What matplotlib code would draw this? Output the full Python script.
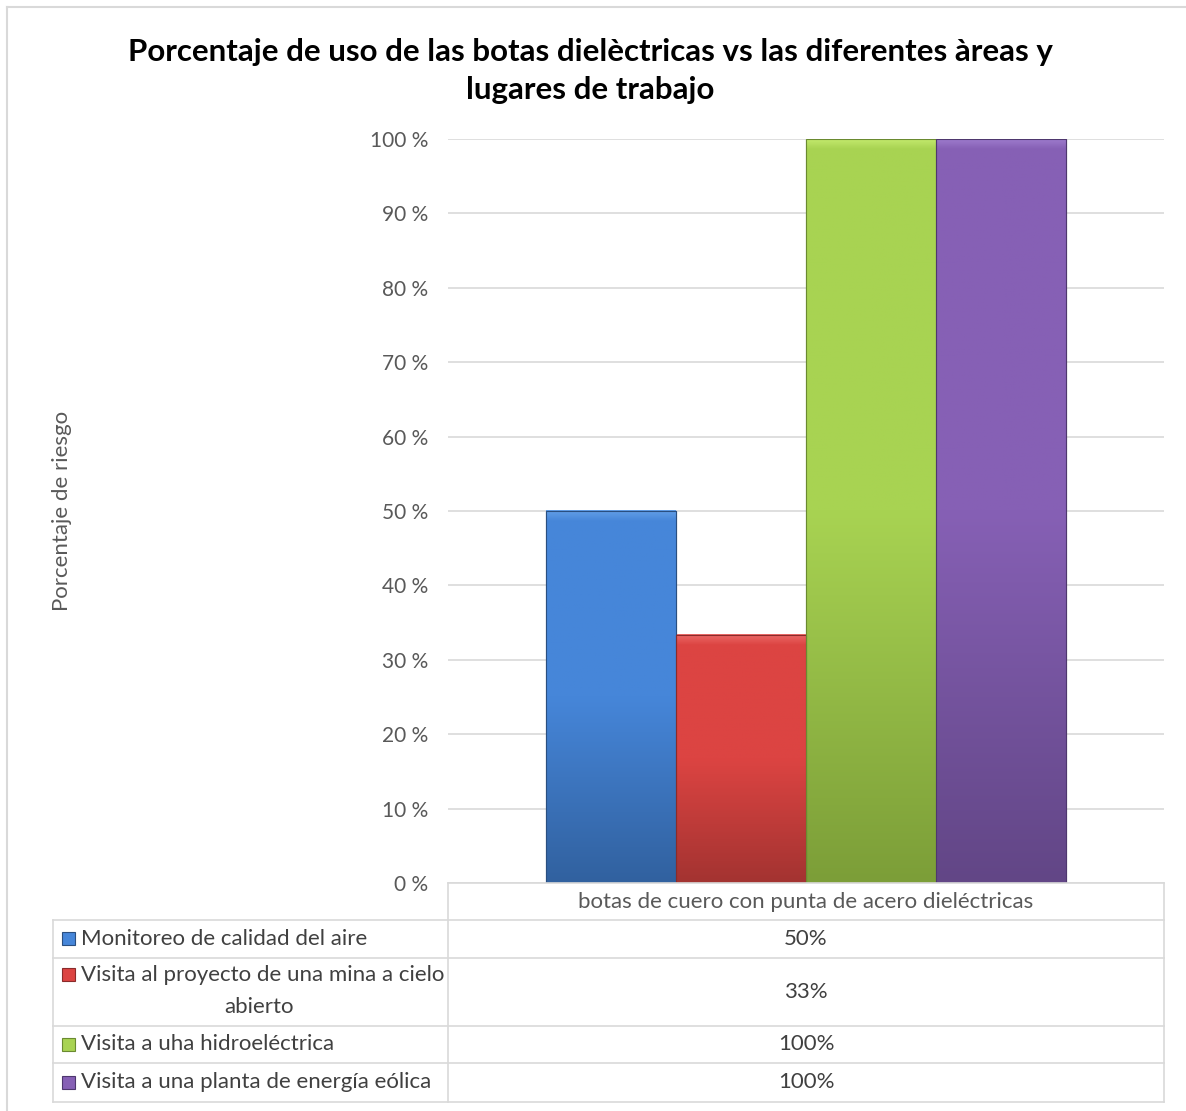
import numpy as np
import matplotlib
matplotlib.use('Agg')
import matplotlib.pyplot as plt
from matplotlib.colors import LinearSegmentedColormap
from matplotlib.lines import Line2D
from matplotlib.patches import Rectangle

plt.rcParams['font.family'] = ['Lato', 'DejaVu Sans']

title = 'Porcentaje de uso de las botas dielèctricas vs las diferentes àreas y\nlugares de trabajo'
category = 'botas de cuero con punta de acero dieléctricas'
series = ['Monitoreo de calidad del aire',
          'Visita al proyecto de una mina a cielo\nabierto',
          'Visita a uha hidroeléctrica',
          'Visita a una planta de energía eólica']
values = [50, 33.33, 100, 100]
top_colors = ['#4686D9', '#DC4442', '#A8D352', '#8660B5']
bottom_colors = ['#31619F', '#A33331', '#7C9E38', '#624686']
light_colors = ['#64A0E8', '#EC6B69', '#C6EC70', '#A07ECF']
edge_colors = ['#2A4F80', '#8A2B2A', '#6A8A30', '#4E376E']
yticks = [0, 10, 20, 30, 40, 50, 60, 70, 80, 90, 100]

W, H = 1186, 1111
fig = plt.figure(figsize=(W / 100, H / 100), dpi=100)

# outer frame (only left and top edges fall inside the picture)
fig.add_artist(Line2D([7 / W, 7 / W], [0, 1 - 7 / H], color='#D9D9D9', lw=1.5))
fig.add_artist(Line2D([7 / W, 1], [1 - 7 / H, 1 - 7 / H], color='#D9D9D9', lw=1.5))

ax_l, ax_r, ax_t, ax_b = 448, 1164, 139, 883
ax = fig.add_axes([ax_l / W, 1 - ax_b / H, (ax_r - ax_l) / W, (ax_b - ax_t) / H])
for s in ax.spines.values():
    s.set_visible(False)
ax.set_yticks(yticks)
ax.set_yticklabels(['%d %%' % t for t in yticks], fontsize=15, color='#595959')
ax.tick_params(axis='y', length=0, pad=14)
ax.set_xticks([])
ax.yaxis.grid(True, color='#D9D9D9', lw=1.2)
ax.set_axisbelow(True)

bw = 0.1815
n = len(values)
for i, v in enumerate(values):
    x0 = (i - (n - 1) / 2) * bw
    bar = ax.bar(x0, v, width=bw, color=top_colors[i], edgecolor=edge_colors[i], lw=0.8, zorder=2)[0]
    cmap = LinearSegmentedColormap.from_list('g%d' % i, [bottom_colors[i], top_colors[i], top_colors[i]])
    grad = np.linspace(0, 1, 256).reshape(-1, 1)
    im = ax.imshow(grad, cmap=cmap, origin='lower', aspect='auto', zorder=2.5,
                   extent=[x0 - bw / 2, x0 + bw / 2, 0, v])
    im.set_clip_path(bar)
    # soft bevel on top
    hl = LinearSegmentedColormap.from_list('h%d' % i, [top_colors[i], light_colors[i]])
    ax.imshow(grad, cmap=hl, origin='lower', aspect='auto', zorder=2.7,
              extent=[x0 - bw / 2, x0 + bw / 2, v - 1.4, v])
    ax.add_patch(Rectangle((x0 - bw / 2, 0), bw, v, fill=False, edgecolor=edge_colors[i], lw=0.8, zorder=3))
ax.set_xlim(-0.5, 0.5)
ax.set_ylim(0, 100)

fig.text(590 / W, 1 - 71 / H, title, ha='center', va='center', fontsize=22.5,
         fontweight='bold', color='black', linespacing=1.4)
fig.text(62 / W, 1 - 511 / H, 'Porcentaje de riesgo', rotation=90, ha='center', va='center',
         fontsize=16, color='#595959')

# data table
grid_c = '#D9D9D9'
tl, tm, tr = 53, 448, 1164
rows_y = [883, 920, 958, 1026, 1063, 1102]

def hline(y, x1, x2):
    fig.add_artist(Line2D([x1 / W, x2 / W], [1 - y / H, 1 - y / H], color=grid_c, lw=1.2))

def vline(x, y1, y2):
    fig.add_artist(Line2D([x / W, x / W], [1 - y1 / H, 1 - y2 / H], color=grid_c, lw=1.2))

hline(rows_y[0], tm, tr)
for y in rows_y[1:]:
    hline(y, tl, tr)
vline(tm, rows_y[0], rows_y[-1])
vline(tr, rows_y[0], rows_y[-1])
vline(tl, rows_y[1], rows_y[-1])

fig.text((tm + tr) / 2 / W, 1 - (rows_y[0] + rows_y[1]) / 2 / H, category,
         ha='center', va='center', fontsize=16, color='#595959')

for i, name in enumerate(series):
    yc = (rows_y[i + 1] + rows_y[i + 2]) / 2
    fig.text((tm + tr) / 2 / W, 1 - yc / H, '%d%%' % round(values[i]),
             ha='center', va='center', fontsize=16, color='#404040')
    lines = name.split('\n')
    if len(lines) == 1:
        ty = [yc]
    else:
        ty = [yc - 17, yc + 15]
    # legend key
    fig.add_artist(Rectangle((62 / W, 1 - (ty[0] + 6) / H), 13 / W, 13 / H, transform=fig.transFigure,
                             facecolor=top_colors[i], edgecolor=edge_colors[i], lw=0.8))
    fig.text(81 / W, 1 - ty[0] / H, lines[0], ha='left', va='center', fontsize=16, color='#404040')
    if len(lines) > 1:
        fig.text(259 / W, 1 - ty[1] / H, lines[1], ha='center', va='center',
                 fontsize=16, color='#404040')

fig.savefig('out.png', dpi=100)
